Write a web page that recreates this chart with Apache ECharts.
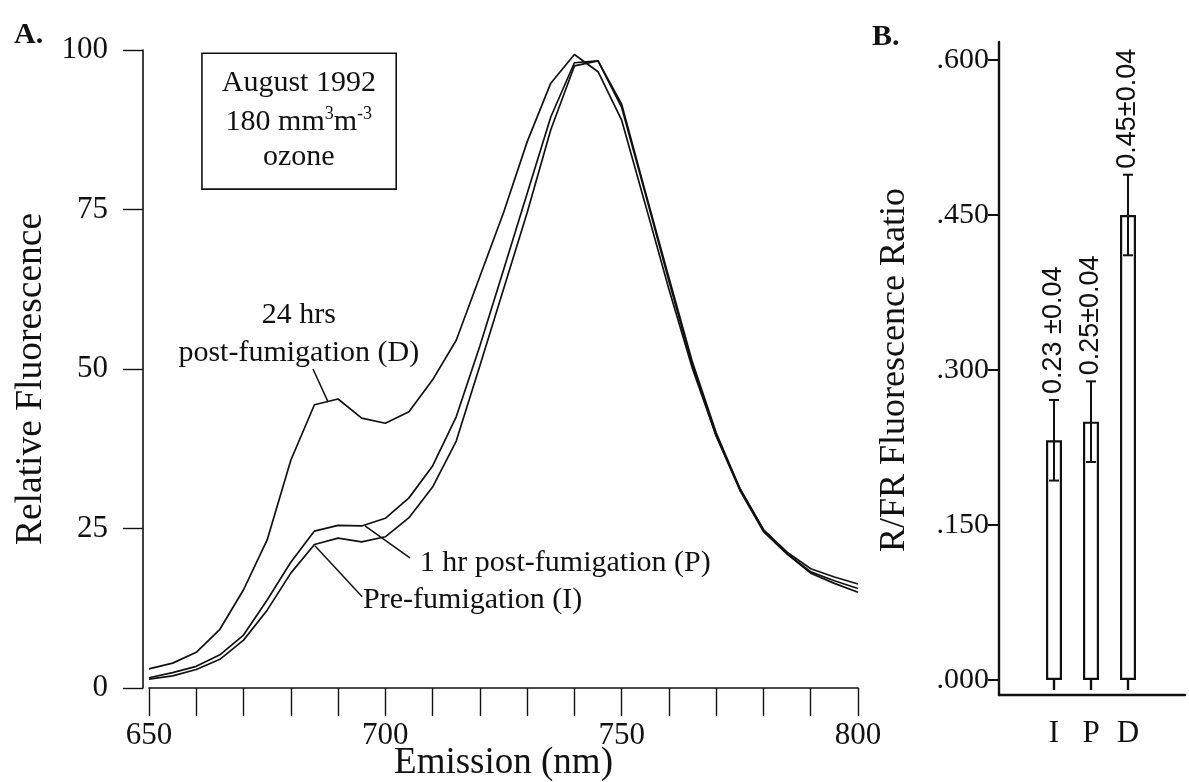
<!DOCTYPE html>
<html><head><meta charset="utf-8">
<script src="https://cdn.jsdelivr.net/npm/echarts@6/dist/echarts.min.js"></script>
<style>html,body{margin:0;padding:0;background:#fff}#c{width:1189px;height:782px}</style>
</head><body><div id="c"></div>
<script>
// ---------- Panel A data ----------
const wavelengths = [650,655,660,665,670,675,680,685,690,695,700,705,710,715,720,725,730,735,740,745,750,755,760,765,770,775,780,785,790,795,800];
const preFumigationI = [1.4,1.9,2.9,4.5,7.5,12.2,18.0,22.5,23.5,22.9,23.7,26.7,31.5,38.7,50.5,62.5,74.5,87.5,97.5,98.3,91.0,77.5,63.8,50.5,39.5,31.0,24.5,21.0,18.0,16.4,15.0];
const oneHrPostP    = [1.6,2.4,3.4,5.2,8.3,13.8,19.7,24.6,25.5,25.4,26.6,29.8,34.8,42.5,53.6,65.5,77.5,89.5,98.0,98.3,91.5,77.8,64.3,51.0,40.0,31.3,24.8,21.1,18.2,16.8,15.6];
const twentyFourHrD = [3.0,3.9,5.6,9.2,15.4,23.2,35.7,44.4,45.3,42.3,41.5,43.3,48.3,54.5,64.5,74.5,85.6,94.8,99.3,96.6,89.0,75.8,62.5,50.0,39.5,31.3,24.8,21.3,18.7,17.4,16.3];
const xTickLabels = [650,700,750,800];
const yTickValues = [0,25,50,75,100];

// ---------- Panel B data ----------
const ratioCategories = ['I','P','D'];
const ratioValues = [0.232,0.250,0.450];
const ratioErrors = [0.039,0.039,0.039];
const ratioLabels = ['0.23 \u00b10.04','0.25\u00b10.04','0.45\u00b10.04'];
const ratioTickValues = [0,0.15,0.30,0.45,0.60];

// ---------- annotations (data coordinates of panel A) ----------
const boxRect = {x0:661.2, x1:702.3, y0:99.5, y1:78.2};
const boxLines = [
  {x:681.7, y:94.8, text:'August 1992'},
  {x:681.7, y:88.7, rich:true},
  {x:681.7, y:83.2, text:'ozone'}
];
const curveLabels = [
  {x:681.7, y:58.5, text:'24 hrs', align:'center'},
  {x:681.7, y:52.5, text:'post-fumigation (D)', align:'center'},
  {x:707.3, y:19.6, text:'1 hr post-fumigation (P)', align:'left'},
  {x:695.3, y:13.8, text:'Pre-fumigation (I)', align:'left'}
];
const leaders = [
  [[684.7,50.0],[687.9,44.8]],
  [[695.7,25.4],[705.2,20.4]],
  [[685.1,22.3],[695.1,14.3]]
];

const SERIF = "'Liberation Serif','Times New Roman',serif";
const SANS = "'Liberation Sans',Arial,sans-serif";
const INK = '#111';

const chart = echarts.init(document.getElementById('c'), null, {renderer:'canvas'});

function pairs(arr){ return wavelengths.map((w,i)=>[w,arr[i]]); }

const lineSeries = [preFumigationI, oneHrPostP, twentyFourHrD].map((arr,k)=>({
  type:'line', xAxisIndex:0, yAxisIndex:0, data:pairs(arr),
  showSymbol:false, symbol:'none', silent:true,
  lineStyle:{color:INK, width:1.7}, z:3
}));

const option = {
  animation:false,
  backgroundColor:'#fff',
  grid:[
    {left:149, right:331, top:50, bottom:94, containLabel:false, outerBoundsMode:'none'},
    {left:999, right:4, top:42, bottom:87, containLabel:false, outerBoundsMode:'none'},
    {left:1035.5, right:42.5, top:60, bottom:102, containLabel:false, outerBoundsMode:'none'}
  ],
  xAxis:[
    {type:'value', gridIndex:0, min:650, max:800, interval:10,
     axisLine:{show:true, lineStyle:{color:INK, width:1.6}},
     axisTick:{show:true, length:28, lineStyle:{color:INK, width:1.4}},
     axisLabel:{formatter:v=>xTickLabels.includes(v)?String(v):'', margin:32, fontFamily:SERIF, fontSize:31, color:INK, showMinLabel:true, showMaxLabel:true},
     splitLine:{show:false},
     name:'Emission (nm)', nameLocation:'middle', nameGap:57, nameMoveOverlap:false,
     nameTextStyle:{fontFamily:SERIF, fontSize:37, color:INK}},
    {type:'value', gridIndex:1, min:0, max:1,
     axisLine:{show:true, lineStyle:{color:INK, width:2.4}},
     axisTick:{show:false}, axisLabel:{show:false}, splitLine:{show:false}},
    {type:'category', gridIndex:2, data:ratioCategories, offset:15,
     axisLine:{show:false},
     axisTick:{show:true, alignWithLabel:true, length:10, lineStyle:{color:INK, width:2.4}},
     axisLabel:{fontFamily:SERIF, fontSize:31, color:INK, margin:23},
     splitLine:{show:false}}
  ],
  yAxis:[
    {type:'value', gridIndex:0, min:0, max:100, interval:25, offset:6,
     axisLine:{show:true, lineStyle:{color:INK, width:1.6}},
     axisTick:{show:true, length:20, lineStyle:{color:INK, width:1.4}},
     axisLabel:{formatter:v=>yTickValues.includes(v)?String(v):'', margin:35, fontFamily:SERIF, fontSize:31, color:INK},
     splitLine:{show:false},
     name:'Relative Fluorescence', nameLocation:'middle', nameGap:93, nameMoveOverlap:false,
     nameTextStyle:{fontFamily:SERIF, fontSize:37.5, color:INK, padding:[0,20,0,0]}},
    {type:'value', gridIndex:1, min:0, max:1,
     axisLine:{show:true, lineStyle:{color:INK, width:2.4}},
     axisTick:{show:false}, axisLabel:{show:false}, splitLine:{show:false}},
    {type:'value', gridIndex:2, min:0, max:0.6, interval:0.15, offset:36.5,
     axisLine:{show:false},
     axisTick:{show:true, length:11, lineStyle:{color:INK, width:2}},
     axisLabel:{formatter:v=>{const t=ratioTickValues.find(r=>Math.abs(r-v)<1e-9); return t===undefined?'':t.toFixed(3).replace(/^0/,'');}, margin:10, fontFamily:SERIF, fontSize:30, color:INK},
     splitLine:{show:false},
     name:'R/FR Fluorescence Ratio', nameLocation:'middle', nameGap:86, nameMoveOverlap:false,
     nameTextStyle:{fontFamily:SERIF, fontSize:36, color:INK}}
  ],
  series:[
    ...lineSeries,
    {type:'custom', xAxisIndex:0, yAxisIndex:0, data:[[0]], silent:true, z:5,
     renderItem:function(params, api){
       const ch = [];
       const a = api.coord([boxRect.x0, boxRect.y0]);
       const b = api.coord([boxRect.x1, boxRect.y1]);
       ch.push({type:'rect', shape:{x:a[0], y:a[1], width:b[0]-a[0], height:b[1]-a[1]},
                style:{fill:'#fff', stroke:INK, lineWidth:1.6}});
       boxLines.forEach(l=>{
         const p = api.coord([l.x, l.y]);
         if(l.rich){
           ch.push({type:'text', x:p[0], y:p[1], style:{
             text:'{m|180 mm}{s|3}{m|m}{s|-3}', align:'center', verticalAlign:'middle', fill:INK,
             rich:{m:{fontFamily:SERIF, fontSize:30, lineHeight:34, fill:INK},
                   s:{fontFamily:SERIF, fontSize:18, lineHeight:18, verticalAlign:'top', fill:INK}}}});
         } else {
           ch.push({type:'text', x:p[0], y:p[1], style:{text:l.text, font:'30px '+SERIF, align:'center', verticalAlign:'middle', fill:INK}});
         }
       });
       curveLabels.forEach(l=>{
         const p = api.coord([l.x, l.y]);
         ch.push({type:'text', x:p[0], y:p[1], style:{text:l.text, font:'30px '+SERIF, align:l.align, verticalAlign:'middle', fill:INK}});
       });
       leaders.forEach(seg=>{
         const p1 = api.coord(seg[0]), p2 = api.coord(seg[1]);
         ch.push({type:'line', shape:{x1:p1[0], y1:p1[1], x2:p2[0], y2:p2[1]}, style:{stroke:INK, lineWidth:1.5}});
       });
       return {type:'group', children:ch};
     }},
    {type:'bar', xAxisIndex:2, yAxisIndex:2, data:ratioValues, barWidth:16, silent:true,
     itemStyle:{color:'#fff', borderColor:INK, borderWidth:2.2}},
    {type:'custom', xAxisIndex:2, yAxisIndex:2, silent:true, z:6,
     data:ratioValues.map((v,i)=>[i, v, ratioErrors[i]]),
     renderItem:function(params, api){
       const i = api.value(0), v = api.value(1), e = api.value(2);
       const top = api.coord([i, v+e]);
       const bot = api.coord([i, v-e]);
       const cap = 5;
       return {type:'group', children:[
         {type:'line', shape:{x1:top[0], y1:top[1], x2:bot[0], y2:bot[1]}, style:{stroke:INK, lineWidth:2}},
         {type:'line', shape:{x1:top[0]-cap, y1:top[1], x2:top[0]+cap, y2:top[1]}, style:{stroke:INK, lineWidth:2}},
         {type:'line', shape:{x1:bot[0]-cap, y1:bot[1], x2:bot[0]+cap, y2:bot[1]}, style:{stroke:INK, lineWidth:2}},
         {type:'text', x:top[0], y:top[1]-6, rotation:Math.PI/2,
          style:{text:ratioLabels[params.dataIndex], font:'27px '+SANS, align:'left', verticalAlign:'middle', fill:INK}}
       ]};
     }}
  ],
  graphic:[
    {type:'text', left:14, top:20, style:{text:'A.', font:'bold 30px '+SERIF, fill:INK}},
    {type:'text', left:872, top:22, style:{text:'B.', font:'bold 30px '+SERIF, fill:INK}}
  ]
};
chart.setOption(option);
</script>
</body></html>
